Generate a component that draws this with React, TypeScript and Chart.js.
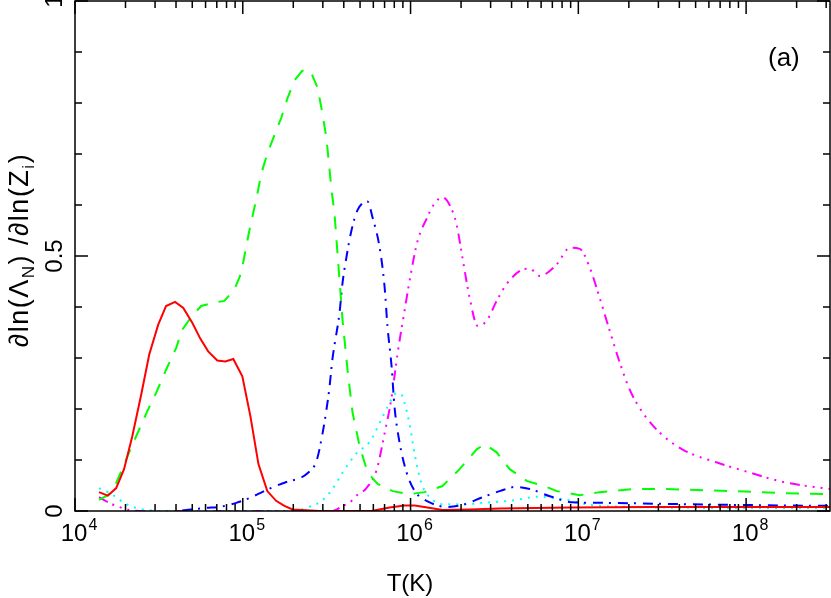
import { useEffect, useRef } from 'react';
import { Chart, registerables } from 'chart.js';

Chart.register(...registerables);

// [T (K), d ln(Lambda_N) / d ln(Z_i)]
const redCurve = [
  [1.39e4, 0.037], [1.57e4, 0.03], [1.76e4, 0.045], [1.96e4, 0.082], [2.19e4, 0.145],
  [2.48e4, 0.228], [2.77e4, 0.307], [3.13e4, 0.365], [3.49e4, 0.402], [3.95e4, 0.41],
  [4.42e4, 0.398], [5.0e4, 0.369], [5.58e4, 0.338], [6.22e4, 0.313], [7.05e4, 0.295],
  [7.87e4, 0.293], [8.78e4, 0.298], [9.94e4, 0.264], [1.11e5, 0.186], [1.24e5, 0.092],
  [1.4e5, 0.039], [1.58e5, 0.02], [1.77e5, 0.01], [1.98e5, 0.003], [2.86e5, 0],
  [5.85e5, 0], [7.5e5, 0.007], [9.2e5, 0.011], [1.06e6, 0.011], [1.26e6, 0.007],
  [1.55e6, 0.002], [2.25e6, 0.003], [3.4e6, 0.005], [8.9e6, 0.007], [2.67e7, 0.008],
  [8.6e7, 0.008], [3.16e8, 0.008],
];

const greenCurve = [
  [1.39e4, 0.022], [1.57e4, 0.031], [1.76e4, 0.055], [1.96e4, 0.09], [2.1e4, 0.115],
  [2.34e4, 0.15], [2.69e4, 0.195], [3.05e4, 0.232], [3.49e4, 0.277], [4.01e4, 0.32],
  [4.35e4, 0.355], [5.0e4, 0.383], [5.65e4, 0.402], [6.58e4, 0.408], [7.76e4, 0.412],
  [8.9e4, 0.434], [9.8e4, 0.467], [1.02e5, 0.498], [1.09e5, 0.547], [1.21e5, 0.615],
  [1.29e5, 0.662], [1.4e5, 0.701], [1.54e5, 0.736], [1.7e5, 0.772], [1.85e5, 0.81],
  [2.03e5, 0.844], [2.26e5, 0.863], [2.53e5, 0.863], [2.79e5, 0.83], [2.94e5, 0.791],
  [3.15e5, 0.732], [3.28e5, 0.674], [3.38e5, 0.629], [3.52e5, 0.584], [3.72e5, 0.479],
  [3.93e5, 0.375], [4.21e5, 0.277], [4.51e5, 0.193], [4.97e5, 0.127], [5.54e5, 0.076],
  [6.36e5, 0.053], [7.82e5, 0.039], [9.87e5, 0.033], [1.21e6, 0.037], [1.55e6, 0.049],
  [1.96e6, 0.082], [2.48e6, 0.121], [2.77e6, 0.131], [3.26e6, 0.115], [3.9e6, 0.082],
  [4.93e6, 0.059], [6.49e6, 0.047], [7.45e6, 0.039], [1.02e7, 0.031], [1.34e7, 0.037],
  [2.11e7, 0.043], [3.37e7, 0.043], [8.36e7, 0.039], [1.66e8, 0.035], [3.16e8, 0.033],
];

const blueCurve = [
  [4.35e4, 0.001], [6.05e4, 0.006], [7.24e4, 0.008], [9.15e4, 0.016], [1.09e5, 0.025],
  [1.38e5, 0.041], [1.82e5, 0.057], [2.17e5, 0.064], [2.43e5, 0.074], [2.75e5, 0.098],
  [2.98e5, 0.15], [3.15e5, 0.198], [3.28e5, 0.24], [3.42e5, 0.297], [3.52e5, 0.325],
  [3.77e5, 0.388], [3.93e5, 0.447], [4.15e5, 0.498], [4.45e5, 0.551], [4.83e5, 0.59],
  [5.54e5, 0.607], [5.93e5, 0.576], [6.53e5, 0.518], [7.0e5, 0.44], [7.29e5, 0.361],
  [7.71e5, 0.283], [8.02e5, 0.205], [8.59e5, 0.135], [9.46e5, 0.076], [1.06e6, 0.039],
  [1.3e6, 0.017], [1.64e6, 0.008], [2.04e6, 0.012], [2.69e6, 0.027], [3.4e6, 0.039],
  [4.18e6, 0.047], [5.13e6, 0.043], [6.76e6, 0.029], [9.27e6, 0.017], [1.34e7, 0.016],
  [3.37e7, 0.014], [8.36e7, 0.012], [3.16e8, 0.01],
];

const cyanCurve = [
  [1.39e4, 0.045], [1.57e4, 0.037], [1.76e4, 0.027], [1.96e4, 0.016], [2.31e4, 0.006],
  [2.69e4, 0.002], [3.16e4, 0], [1.9e5, 0], [2.49e5, 0.008], [2.98e5, 0.021],
  [3.42e5, 0.043], [3.93e5, 0.075], [4.76e5, 0.113], [5.69e5, 0.135], [6.53e5, 0.172],
  [7.29e5, 0.204], [8.25e5, 0.231], [8.84e5, 0.228], [9.2e5, 0.212], [9.87e5, 0.17],
  [1.06e6, 0.11], [1.16e6, 0.055], [1.35e6, 0.022], [1.64e6, 0.013], [2.04e6, 0.013],
  [2.69e6, 0.016], [3.9e6, 0.02], [5.89e6, 0.028], [8.53e6, 0.022], [1.17e7, 0.012],
  [2.11e7, 0.008], [8.36e7, 0.006], [3.16e8, 0.006],
];

const magentaCurve = [
  [1.39e4, 0.027], [1.6e4, 0.016], [1.83e4, 0.008], [2.1e4, 0.002], [2.41e4, 0],
  [3.42e5, 0], [3.93e5, 0.01], [4.32e5, 0.016], [4.76e5, 0.03], [5.46e5, 0.045],
  [6.27e5, 0.08], [7.0e5, 0.152], [7.71e5, 0.223], [8.36e5, 0.308], [9.2e5, 0.392],
  [1.01e6, 0.47], [1.1e6, 0.529], [1.25e6, 0.574], [1.39e6, 0.603], [1.55e6, 0.615],
  [1.71e6, 0.6], [1.88e6, 0.562], [2.04e6, 0.496], [2.25e6, 0.418], [2.51e6, 0.363],
  [2.84e6, 0.373], [3.26e6, 0.412], [3.74e6, 0.445], [4.48e6, 0.471], [5.13e6, 0.475],
  [5.89e6, 0.461], [7.45e6, 0.484], [8.89e6, 0.516], [1.02e7, 0.514], [1.17e7, 0.477],
  [1.34e7, 0.418], [1.54e7, 0.353], [1.77e7, 0.29], [2.03e7, 0.237], [2.43e7, 0.192],
  [3.07e7, 0.153], [4.21e7, 0.12], [6.71e7, 0.095], [1.06e8, 0.075], [1.66e8, 0.057],
  [3.16e8, 0.043],
];

// axis ticks
const xDecades = [4, 5, 6, 7, 8];
const xMinorMultipliers = [2, 3, 4, 5, 6, 7, 8, 9];
const yMajorTicks = [0, 0.5, 1];
const yMinorTicks = [0.1, 0.2, 0.3, 0.4, 0.6, 0.7, 0.8, 0.9];
const yTickLabels = ['0', '0.5', '1'];

const X_MIN = 1e4;
const X_MAX = 3.162e8;
const FONT = '"Liberation Sans", Arial, Helvetica, sans-serif';

const toPoints = (rows: number[][]) => rows.map(([x, y]) => ({ x, y }));

const framePlugin = {
  id: 'pgplotFrame',
  afterDraw(chart: any) {
    const { ctx, chartArea: a } = chart;
    const xs = chart.scales.x;
    const ys = chart.scales.y;
    ctx.save();
    ctx.strokeStyle = '#000';
    ctx.fillStyle = '#000';
    ctx.lineWidth = 1.5;
    ctx.strokeRect(a.left, a.top, a.right - a.left, a.bottom - a.top);

    const MAJOR = 13;
    const MINOR = 7;
    ctx.beginPath();
    // x ticks, bottom and top, pointing inward
    xDecades.forEach((d) => {
      const major = Math.pow(10, d);
      const px = xs.getPixelForValue(major);
      ctx.moveTo(px, a.bottom); ctx.lineTo(px, a.bottom - MAJOR);
      ctx.moveTo(px, a.top); ctx.lineTo(px, a.top + MAJOR);
      xMinorMultipliers.forEach((m) => {
        const v = m * major;
        if (v > X_MAX) return;
        const p = xs.getPixelForValue(v);
        ctx.moveTo(p, a.bottom); ctx.lineTo(p, a.bottom - MINOR);
        ctx.moveTo(p, a.top); ctx.lineTo(p, a.top + MINOR);
      });
    });
    // y ticks, left and right
    yMajorTicks.forEach((v) => {
      const py = ys.getPixelForValue(v);
      ctx.moveTo(a.left, py); ctx.lineTo(a.left + MAJOR, py);
      ctx.moveTo(a.right, py); ctx.lineTo(a.right - MAJOR, py);
    });
    yMinorTicks.forEach((v) => {
      const py = ys.getPixelForValue(v);
      ctx.moveTo(a.left, py); ctx.lineTo(a.left + MINOR, py);
      ctx.moveTo(a.right, py); ctx.lineTo(a.right - MINOR, py);
    });
    ctx.stroke();

    // x tick labels: 10 with superscript exponent
    ctx.textBaseline = 'alphabetic';
    ctx.textAlign = 'left';
    xDecades.forEach((d) => {
      const px = xs.getPixelForValue(Math.pow(10, d));
      ctx.font = `24px ${FONT}`;
      const wBase = ctx.measureText('10').width;
      ctx.font = `16px ${FONT}`;
      const wExp = ctx.measureText(String(d)).width;
      const start = px + 4 - (wBase + wExp + 1) / 2;
      ctx.font = `24px ${FONT}`;
      ctx.fillText('10', start, a.bottom + 30);
      ctx.font = `16px ${FONT}`;
      ctx.fillText(String(d), start + wBase + 1, a.bottom + 19);
    });

    // y tick labels, rotated
    ctx.font = `24px ${FONT}`;
    yMajorTicks.forEach((v, i) => {
      const py = ys.getPixelForValue(v);
      ctx.save();
      ctx.translate(a.left - 13, py);
      ctx.rotate(-Math.PI / 2);
      ctx.textAlign = 'center';
      ctx.fillText(yTickLabels[i], 0, 0);
      ctx.restore();
    });

    // x axis title
    ctx.font = `24px ${FONT}`;
    ctx.textAlign = 'center';
    ctx.fillText('T(K)', 410, 591);

    // y axis title with subscripts
    const parts: [string, boolean][] = [
      ['\u2202ln(\u039B', false], ['N', true], [') /\u2202ln(Z', false], ['i', true], [')', false],
    ];
    const big = `27px ${FONT}`;
    const small = `17px ${FONT}`;
    ctx.save();
    (ctx as any).letterSpacing = '1.5px';
    let total = 0;
    parts.forEach(([t, sub]) => {
      ctx.font = sub ? small : big;
      total += ctx.measureText(t).width;
    });
    ctx.translate(28, 250);
    ctx.rotate(-Math.PI / 2);
    ctx.textAlign = 'left';
    let cx = -total / 2;
    parts.forEach(([t, sub]) => {
      ctx.font = sub ? small : big;
      ctx.fillText(t, cx, sub ? 6 : 0);
      cx += ctx.measureText(t).width;
    });
    ctx.restore();

    // panel label
    ctx.font = `26px ${FONT}`;
    ctx.textAlign = 'left';
    ctx.fillText('(a)', 768, 66);
    ctx.restore();
  },
};

export default function App() {
  const canvasRef = useRef<HTMLCanvasElement>(null);

  useEffect(() => {
    document.body.style.margin = '0';
    if (!canvasRef.current) return;

    const line = (data: number[][], color: string, dash: number[], tension = 0) => ({
      data: toPoints(data),
      borderColor: color,
      borderWidth: 2,
      borderDash: dash,
      pointRadius: 0,
      fill: false,
      tension,
      cubicInterpolationMode: tension > 0 ? ('monotone' as const) : ('default' as const),
    });

    const chart = new Chart(canvasRef.current, {
      type: 'line',
      data: {
        datasets: [
          line(redCurve, '#ff0000', [], 0),
          line(greenCurve, '#00ff00', [13, 11], 0),
          line(blueCurve, '#0000ff', [10, 6, 2, 7], 0.4),
          line(cyanCurve, '#00ffff', [2, 6], 0.4),
          line(magentaCurve, '#ff00ff', [10, 5, 2, 6, 2, 6, 2, 6], 0.4),
        ],
      },
      options: {
        responsive: false,
        animation: false,
        devicePixelRatio: 1,
        layout: { padding: { left: 75, right: 1, top: 1, bottom: 87 } },
        plugins: {
          legend: { display: false },
          tooltip: { enabled: false },
        },
        scales: {
          x: { type: 'logarithmic', min: X_MIN, max: X_MAX, display: false },
          y: { type: 'linear', min: 0, max: 1, display: false },
        },
      },
      plugins: [framePlugin],
    });

    return () => chart.destroy();
  }, []);

  return (
    <div style={{ width: 831, height: 598, background: '#fff' }}>
      <canvas ref={canvasRef} width={831} height={598}></canvas>
    </div>
  );
}
